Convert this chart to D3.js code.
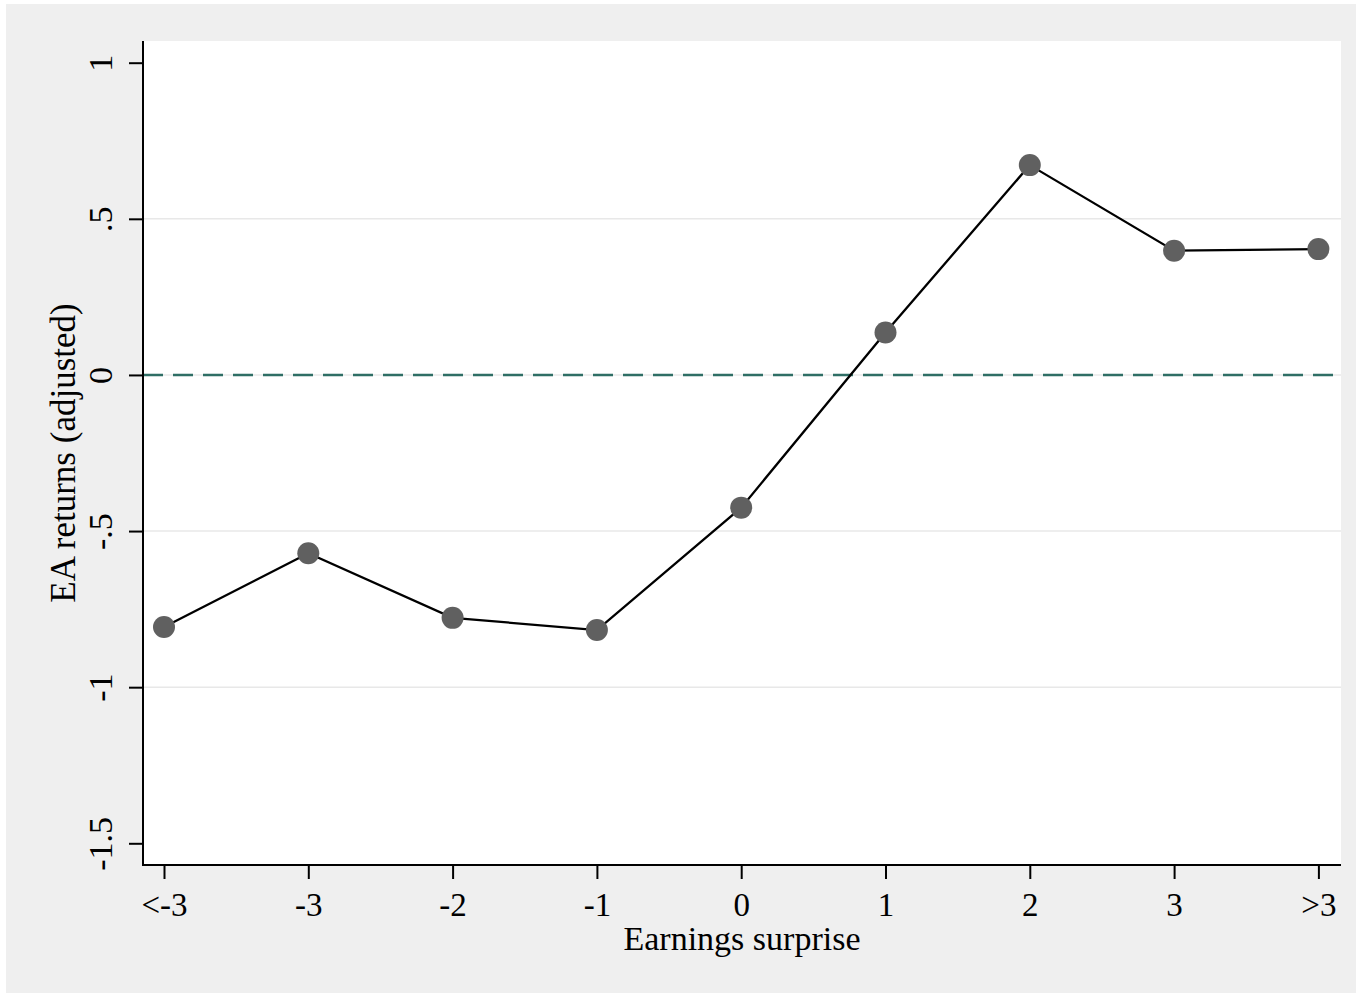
<!DOCTYPE html>
<html>
<head>
<meta charset="utf-8">
<script src="https://cdn.jsdelivr.net/npm/d3@7"></script>
<style>
  html, body { margin: 0; padding: 0; background: #ffffff; }
  svg { display: block; }
  text { font-family: "Liberation Serif", "Times New Roman", serif; fill: #000; }
</style>
</head>
<body>
<script>
// Earnings-surprise bins and mean adjusted announcement returns
const categories = ["<-3", "-3", "-2", "-1", "0", "1", "2", "3", ">3"];
const returns = [-0.807, -0.571, -0.778, -0.817, -0.425, 0.136, 0.672, 0.398, 0.403];
const yTickValues = [-1.5, -1, -0.5, 0, 0.5, 1];
const yTickLabels = ["-1.5", "-1", "-.5", "0", ".5", "1"];
const gridValues = [-1, -0.5, 0, 0.5];
const xTitle = "Earnings surprise";
const yTitle = "EA returns (adjusted)";

const W = 1356, H = 995;
const plot = { left: 143, right: 1341, top: 41, bottom: 865 };

const svg = d3.select("body").append("svg")
  .attr("width", W).attr("height", H);

// outer graph region
svg.append("rect")
  .attr("x", 6).attr("y", 4).attr("width", W - 6).attr("height", H - 6)
  .attr("fill", "#efefef");

// inner plot region
svg.append("rect")
  .attr("x", plot.left).attr("y", plot.top)
  .attr("width", plot.right - plot.left).attr("height", plot.bottom - plot.top)
  .attr("fill", "#ffffff");

const x = d3.scalePoint().domain(categories).range([164, 1318.4]);
const y = d3.scaleLinear().domain([-1.5, 1]).range([843.3, 62.7]);

// horizontal grid lines
svg.append("g").selectAll("line")
  .data(gridValues)
  .join("line")
  .attr("x1", plot.left).attr("x2", plot.right)
  .attr("y1", d => y(d)).attr("y2", d => y(d))
  .attr("stroke", "#e8e8e8").attr("stroke-width", 1.6);

// reference line at zero
svg.append("line")
  .attr("x1", plot.left).attr("x2", plot.right)
  .attr("y1", y(0)).attr("y2", y(0))
  .attr("stroke", "#2f6e65").attr("stroke-width", 2.6)
  .attr("stroke-dasharray", "20,10");

// y axis
const yAxis = d3.axisLeft(y)
  .tickValues(yTickValues)
  .tickFormat((d, i) => yTickLabels[i])
  .tickSize(14)
  .tickSizeOuter(0);
const gy = svg.append("g").attr("transform", `translate(${plot.left},0)`).call(yAxis);
gy.select(".domain").remove();
gy.selectAll(".tick line").attr("stroke", "#000").attr("stroke-width", 2);
gy.selectAll(".tick text")
  .attr("font-size", 34)
  .attr("x", 0).attr("dy", 0)
  .attr("text-anchor", "middle")
  .attr("transform", "translate(-31,0) rotate(-90)");
svg.append("line")
  .attr("x1", plot.left).attr("x2", plot.left)
  .attr("y1", plot.top).attr("y2", plot.bottom + 1)
  .attr("stroke", "#000").attr("stroke-width", 2);

// x axis
const xAxis = d3.axisBottom(x).tickSize(14).tickSizeOuter(0);
const gx = svg.append("g").attr("transform", `translate(0,${plot.bottom})`).call(xAxis);
gx.select(".domain").remove();
gx.selectAll(".tick line").attr("stroke", "#000").attr("stroke-width", 2);
gx.selectAll(".tick text")
  .attr("font-size", 33)
  .attr("y", 50.5).attr("dy", 0);
svg.append("line")
  .attr("x1", plot.left - 1).attr("x2", plot.right)
  .attr("y1", plot.bottom).attr("y2", plot.bottom)
  .attr("stroke", "#000").attr("stroke-width", 2);

// axis titles
svg.append("text")
  .attr("x", (plot.left + plot.right) / 2).attr("y", 950)
  .attr("text-anchor", "middle").attr("font-size", 34)
  .text(xTitle);
svg.append("text")
  .attr("transform", `translate(74.5,${(plot.top + plot.bottom) / 2}) rotate(-90)`)
  .attr("text-anchor", "middle").attr("font-size", 35)
  .text(yTitle);

// connected series
const line = d3.line()
  .x((d, i) => x(categories[i]))
  .y(d => y(d));
svg.append("path")
  .datum(returns)
  .attr("d", line)
  .attr("fill", "none")
  .attr("stroke", "#000")
  .attr("stroke-width", 2.3);

svg.append("g").selectAll("circle")
  .data(returns)
  .join("circle")
  .attr("cx", (d, i) => x(categories[i]))
  .attr("cy", d => y(d))
  .attr("r", 11)
  .attr("fill", "#606060");
</script>
</body>
</html>
